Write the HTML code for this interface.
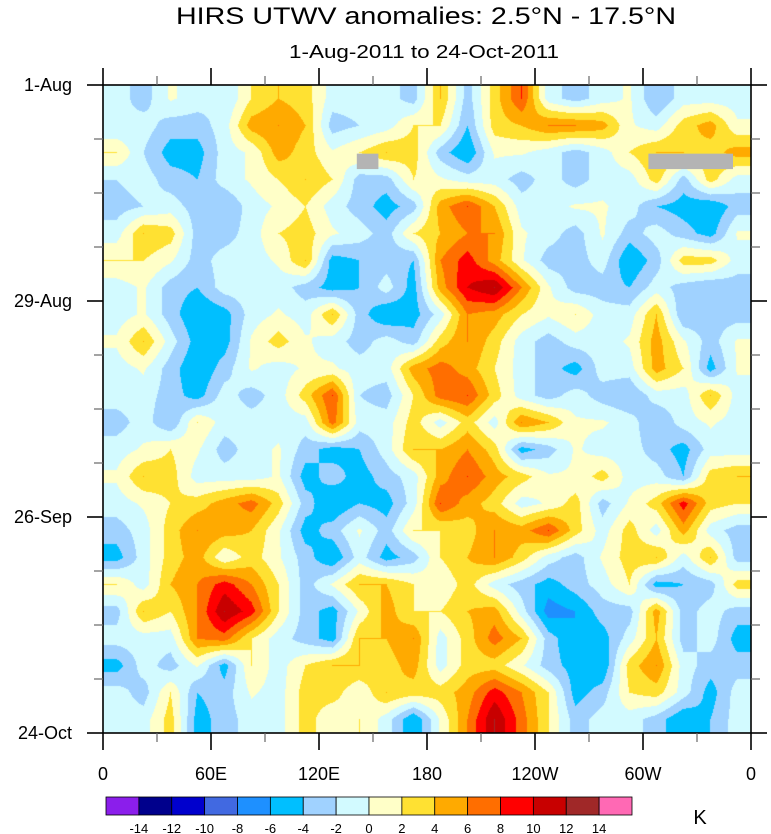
<!DOCTYPE html>
<html><head><meta charset="utf-8"><style>
html,body{margin:0;padding:0;background:#fff;}
#wrap{position:relative;width:771px;height:834px;overflow:hidden;font-family:"Liberation Sans",sans-serif;}
#hm{position:absolute;left:103px;top:85px;}
#ov{position:absolute;left:0;top:0;}
</style></head><body>
<div id="wrap">
<canvas id="hm" width="648" height="648"></canvas>
<svg id="ov" width="771" height="834" xmlns="http://www.w3.org/2000/svg"></svg>
</div>
<script>
// Data grid: rows = time (1-Aug top to 24-Oct bottom), cols = longitude 0..360
const levels = [-14,-12,-10,-8,-6,-4,-2,0,2,4,6,8,10,12,14];
const colors = ["#8B1EEB","#00008C","#0000CD","#4169E1","#1E90FF","#00BFFF","#A0D2FF","#D2FAFF","#FFFFC8","#FFE132","#FFAA00","#FF6E00","#FF0000","#C80000","#A02828","#FF69B4"];
const yLabels = ["1-Aug","29-Aug","26-Sep","24-Oct"];
const xLabels = ["0","60E","120E","180","120W","60W","0"];
const missing = [[141,153,8.9,10.9],[303,350,8.9,10.9]]; // lon0, lon1, day0, day1
const grid = [
[-1,-3,0.3,-1,-2,2,4,3,-1,-1,-1,-3, 4,-3,3,8,-1,-3,-1,0.3,-4,-1,-1,-1],
[-2,-1,-3,-3,-1,5,6,4,-3,-2,-1,2, 2,-4,3,4,6,6,5,0.3,-1,3,5,0.3],
[2,-2,-5,-5,-1,0.3,5,3,0.3,2,4,3, -3,-6,0.3,0.3,-1,-3,-1,2,4,4,3,5],
[-2,-1,-3,-4,-1,0.3,2,4,2,-3,-3,2, 0.3,-1,-1,-3,-1,-3,-1,-1,3,-3,3,-1],
[-3,-2,-1,-3,-4,-1,0.3,2,-1,-3,-5,-3, 5,8,4,-1,-1,0.3,0.3,-1,-4,-5,-6,-3],
[-1,4,3,-3,-3,-1,2,3,0.3,-1,-3,2, 4,6,6,0.3,-1,-3,0.3,-3,-1,-3,-5,0.3],
[2,2,0.3,-3,-1,-1,0.3,4,-5,-4,-3,-4, 6,9,5,0.3,-3,-3,-1,-6,-3,3,3,-1],
[-1,0.3,-3,-4,-1,-1,-1,-3,-5,-4,-1,-5, 5,10,12,6,0.3,-3,-3,-4,-1,-3,-4,-3],
[-1,0.3,-3,-6,-5,-1,0.3,-1,4,-3,-6,-5, -1,6,5,2,0.3,2,-1,-1,4,-4,-3,-3],
[0.3,4,-1,-5,-5,0.3,3,0.3,-1,-3,-1,-3, 3,6,3,-1,-3,-1,-1,0.3,5,0.3,-3,0.3],
[-1,0.3,-3,-6,-3,0.3,-1,0.3,0.3,-1,-1,5, 7,5,2,-1,-3,-5,-1,-1,5,2,-5,0.3],
[-1,-1,-3,-5,-1,-3,-1,3,8,-2,-3,2, 7,8,3,-1,-3,-1,-3,-4,-1,-1,4,-1],
[-3,-1,-4,2,-1,-1,-1,-1,7,-1,-1,3, -1,3,-1,6,4,0.3,0.3,-1,-4,-1,0.3,-1],
[-1,0.3,2,0.3,-3,-1,0.3,-3,-5,-4,-1,4, 4,6,3,-5,-3,0.3,-1,-1,-3,-5,-1,-1],
[0.3,4,3,-1,-1,-1,0.3,-5,-3,-5,-3,-1, 5,8,5,3,0.3,0.3,3,-1,-1,-4,3,4],
[-1,0.3,2,3,5,7,3,-3,-6,-4,-5,-1, 8,5,3,-1,0.3,3,-3,0.3,3,9,3,2],
[-3,-1,3,6,5,4,0.3,-5,-3,0.3,-3,2, 2,3,6,5,8,3,-1,3,-1,5,-1,-3],
[-5,-1,3,5,0.3,3,0.3,-3,-6,-1,-5,-3, 2,4,6,3,-1,-3,0.3,3,4,-1,4,-3],
[2,-1,4,6,9,6,2,-3,0.3,4,4,2, 0.3,3,-1,-3,-5,-3,-1,2,-5,-4,-3,3],
[-3,4,2,6,12,9,2,-3,-5,0.3,5,2, 2,4,5,-1,-7,-6,-3,-3,5,-3,-1,-3],
[-1,-1,-1,6,7,2,-1,-3,-5,4,4,6, -1,3,7,4,-3,-6,-5,-1,4,-3,-1,-5],
[-5,-1,-3,0.3,-5,2,-1,2,4,4,3,5, -1,3,3,0.3,-3,-5,-6,3,6,-1,-3,-3],
[-1,-3,2,-4,-3,0.3,-1,3,3,0.3,4,3, 3,5,9,6,2,-5,-3,2,3,-1,-5,-1],
[-1,-1,3,-5,-3,-1,-1,3,0.3,2,-1,-6, 0.3,6,12,7,2,-3,-1,-1,-3,-6,-4,-1]
];

const PX=103, PY=85, PW=648, PH=648, NDAYS=84;
const xScale = lon => PX + lon/360*PW;
const yScale = day => PY + day/NDAYS*PH;
function hex(c){return [parseInt(c.slice(1,3),16),parseInt(c.slice(3,5),16),parseInt(c.slice(5,7),16)];}

// heatmap via bilinear interpolation of grid + quantization into contour levels
(function(){
  const cv=document.getElementById('hm'), ctx=cv.getContext('2d');
  const img=ctx.createImageData(PW,PH);
  const R=grid.length, C=grid[0].length;
  const cw=PW/C, ch=PH/R;
  const rgb=colors.map(hex);
  for(let y=0;y<PH;y++){
    let fy=(y+0.5)/ch-0.5; fy=Math.max(0,Math.min(R-1,fy));
    const r0=Math.floor(fy), r1=Math.min(R-1,r0+1), ty=fy-r0;
    for(let x=0;x<PW;x++){
      let fx=(x+0.5)/cw-0.5; fx=Math.max(0,Math.min(C-1,fx));
      const c0=Math.floor(fx), c1=Math.min(C-1,c0+1), tx=fx-c0;
      const v=(grid[r0][c0]*(1-tx)+grid[r0][c1]*tx)*(1-ty)+(grid[r1][c0]*(1-tx)+grid[r1][c1]*tx)*ty;
      let i=0;while(i<levels.length && v>=levels[i]) i++;
      const k=(y*PW+x)*4, c=rgb[i];
      img.data[k]=c[0];img.data[k+1]=c[1];img.data[k+2]=c[2];img.data[k+3]=255;
    }
  }
  ctx.putImageData(img,0,0);
})();

const svg=document.getElementById('ov');
const NS="http://www.w3.org/2000/svg";
function mk(tag,attrs,parent){const e=document.createElementNS(NS,tag);for(const k in attrs)e.setAttribute(k,attrs[k]);(parent||svg).appendChild(e);return e;}

// missing data boxes
missing.forEach(m=>{
  const e=mk('rect',{x:xScale(m[0]),y:yScale(m[2]),width:xScale(m[1])-xScale(m[0]),height:yScale(m[3])-yScale(m[2]),fill:'#b4b4b4'});
  
  
});

// frame
const fr=mk('rect',{x:PX,y:PY,width:PW,height:PH,fill:'none',stroke:'#000','stroke-width':1.6});



// x ticks
for(let k=0;k<=12;k++){
  const x=xScale(k*30), major=k%2===0, L=major?17:9;
  const col=major?'#000':'#666', w=major?1.6:1.2;
  const t1=mk('line',{x1:x,x2:x,y1:PY+PH,y2:PY+PH+L,stroke:col,'stroke-width':w});
  
  
  const t2=mk('line',{x1:x,x2:x,y1:PY,y2:PY-L,stroke:col,'stroke-width':w});
  
  
}
xLabels.forEach((s,i)=>{
  const t=mk('text',{x:xScale(i*60),y:780,'text-anchor':'middle','font-size':18,fill:'#000'});
  t.textContent=s;
  
  
});
// y ticks
for(let k=0;k<=12;k++){
  const y=yScale(k*7), major=k%4===0, L=major?16:9;
  const col=major?'#000':'#666', w=major?1.6:1.2;
  const a=mk('line',{x1:PX,x2:PX-L,y1:y,y2:y,stroke:col,'stroke-width':w});
  
  
  const b=mk('line',{x1:PX+PW,x2:PX+PW+L,y1:y,y2:y,stroke:col,'stroke-width':w});
  
  
}
yLabels.forEach((s,i)=>{
  const t=mk('text',{x:72,y:yScale(i*28)+6,'text-anchor':'end','font-size':18,fill:'#000'});
  t.textContent=s;
  
  
});

// titles
const ti=mk('text',{x:426,y:24,'text-anchor':'middle','font-size':24,textLength:500,lengthAdjust:'spacingAndGlyphs',fill:'#000'});
ti.textContent="HIRS UTWV anomalies: 2.5°N - 17.5°N";


const st=mk('text',{x:424,y:58,'text-anchor':'middle','font-size':18,textLength:270,lengthAdjust:'spacingAndGlyphs',fill:'#000'});
st.textContent="1-Aug-2011 to 24-Oct-2011";



// colorbar
const CBX=106, CBY=797, CBH=18, bw=526/16;
colors.forEach((c,i)=>{
  const r=mk('rect',{x:CBX+i*bw,y:CBY,width:bw,height:CBH,fill:c,stroke:'#000','stroke-width':0.8});
  
  
});
levels.forEach((v,i)=>{
  const t=mk('text',{x:CBX+(i+1)*bw,y:833,'text-anchor':'middle','font-size':13,fill:'#000'});
  t.textContent=String(v);
  
  
});
const ku=mk('text',{x:700,y:824,'text-anchor':'middle','font-size':20,fill:'#000'});
ku.textContent="K";


</script>
</body></html>
